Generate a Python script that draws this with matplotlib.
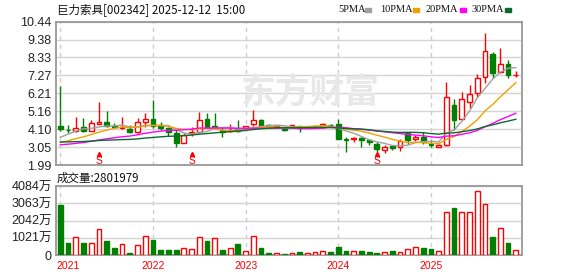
import numpy as np
import pandas as pd
import matplotlib
matplotlib.use("Agg")
import matplotlib.pyplot as plt
from matplotlib.patches import Rectangle

plt.rcParams['font.family'] = ['Liberation Sans', 'Noto Sans CJK SC']

# ---- monthly K-line data, 2021-01 .. 2025-12 (price, front adjusted) ----
open_ = [4.29, 4.07, 3.99, 4.23, 4.01, 4.42, 4.52, 4.29, 4.17, 4.11, 3.95, 4.54,
         4.70, 4.35, 4.15, 3.89, 3.30, 3.85, 3.95, 4.68, 4.30, 4.05, 4.00, 4.13,
         4.13, 4.38, 4.62, 4.36, 4.24, 4.13, 4.27, 4.27, 4.21, 4.24, 4.25, 4.36,
         4.40, 3.51, 3.50, 3.58, 3.44, 3.24, 2.87, 3.09, 3.03, 3.85, 3.50, 3.66,
         3.21, 3.08, 3.17, 5.53, 4.68, 5.68, 6.21, 7.20, 8.53, 7.45, 7.93, 7.27]
high = [6.65, 4.35, 4.82, 4.76, 4.64, 5.70, 5.17, 4.46, 4.82, 4.35, 4.76, 5.05,
        5.82, 4.50, 4.25, 4.05, 3.85, 4.21, 5.09, 5.05, 5.05, 4.25, 4.40, 4.64,
        4.29, 5.21, 4.72, 4.38, 4.31, 4.21, 4.37, 4.29, 4.29, 4.30, 4.48, 4.40,
        4.70, 3.66, 3.66, 3.66, 3.50, 3.32, 3.15, 3.15, 3.50, 3.95, 3.76, 3.91,
        3.46, 3.24, 6.86, 5.88, 6.31, 6.71, 7.34, 9.75, 8.67, 8.91, 8.18, 7.55]
low = [4.01, 3.85, 3.95, 3.91, 4.00, 4.40, 4.25, 4.15, 4.11, 3.85, 3.90, 4.25,
       4.17, 4.05, 3.70, 3.07, 3.26, 3.70, 3.90, 4.15, 4.10, 3.66, 3.95, 3.95,
       4.09, 4.29, 4.25, 4.25, 4.20, 4.00, 4.23, 3.95, 4.15, 4.20, 4.23, 4.23,
       3.50, 2.73, 3.32, 3.07, 3.16, 2.77, 2.67, 2.87, 2.81, 3.20, 3.40, 3.20,
       3.05, 3.05, 3.13, 4.05, 4.64, 5.33, 6.02, 6.80, 7.14, 7.39, 7.14, 7.20]
close = [4.11, 4.04, 4.15, 4.01, 4.46, 4.52, 4.29, 4.21, 4.23, 3.91, 4.52, 4.70,
         4.29, 4.15, 3.92, 3.27, 3.76, 3.95, 4.62, 4.21, 4.24, 3.96, 4.05, 4.02,
         4.29, 4.62, 4.29, 4.27, 4.28, 4.06, 4.33, 4.19, 4.23, 4.27, 4.38, 4.33,
         3.54, 3.47, 3.60, 3.44, 3.32, 2.91, 3.07, 2.97, 3.38, 3.46, 3.66, 3.32,
         3.14, 3.17, 5.98, 4.64, 5.88, 6.16, 7.10, 8.71, 7.43, 7.93, 7.30, 7.31]
# volume in 万 (10k lots)
volume = [3000, 720, 1060, 720, 720, 1540, 840, 420, 640, 120, 580, 1120,
          900, 300, 300, 300, 400, 340, 1060, 840, 1000, 300, 400, 660,
          220, 1120, 420, 120, 120, 60, 120, 180, 120, 180, 240, 180,
          480, 240, 240, 240, 180, 120, 180, 240, 180, 340, 460, 420,
          360, 240, 2560, 2820, 2560, 2560, 3820, 3040, 1080, 1600, 720, 280.2]
# closes before 2021 (estimated from where the MA lines start), only to seed the MAs
pre_close = [3.95, 3.80, 3.72, 3.60, 3.55, 3.70, 3.78, 3.65, 3.60, 3.55,
             3.30, 3.20, 3.05, 2.95, 3.00, 2.90, 2.95, 3.05, 3.10, 3.00,
             2.95, 2.90, 3.00, 3.05, 3.10, 3.10, 3.25, 3.35, 4.30]

years = ['2021', '2022', '2023', '2024', '2025']
year_idx = [0, 12, 24, 36, 48]
s_marks = [5, 17, 41]

price_ticks = [1.99, 3.05, 4.10, 5.16, 6.21, 7.27, 8.33, 9.38, 10.44]
vol_ticks = [0, 1021, 2042, 3063, 4084]
vol_labels = ['0', '1021万', '2042万', '3063万', '4084万']

ma_windows = [5, 10, 20, 30]
ma_labels = ['5PMA', '10PMA', '20PMA', '30PMA']
ma_colors = ['#a0a0a0', '#f0a000', '#ff00ff', '#0a6b30']

RED = '#ff0000'
GREEN = '#008000'

o = np.array(open_); h = np.array(high); l = np.array(low); c = np.array(close)
v = np.array(volume)
x = np.arange(len(c))
up = c >= o
prev = np.concatenate([[pre_close[-1]], c[:-1]])
vol_up = c >= prev

fig = plt.figure(figsize=(5.78, 2.76), dpi=100)
ax = fig.add_axes([56 / 578, 111 / 276, 466 / 578, 143.3 / 276])
axv = fig.add_axes([56 / 578, 21 / 276, 466 / 578, 68.7 / 276])

xlim = (-0.56, 59.8)
for a in (ax, axv):
    a.set_xlim(*xlim)
    for s in a.spines.values():
        s.set_color('#999999')
        s.set_linewidth(1.3)
    a.tick_params(length=0, pad=3, labelsize=9, colors='#222222')
    a.set_xticks([])
    for yi in year_idx:
        a.axvline(yi, color='#cccccc', lw=1, dashes=(3, 3), zorder=1)

# ---- price panel ----
ax.set_ylim(1.99, 10.44)
ax.set_yticks(price_ticks)
ax.set_yticklabels([f'{t:.2f}' for t in price_ticks])
ax.yaxis.grid(True, color='#d4d4d4', lw=1)
ax.set_axisbelow(True)

ax.text(0.545, 0.51, '东方财富', transform=ax.transAxes, fontsize=25,
        fontweight='bold', color='#e8e8e8', ha='center', va='center',
        family=['Noto Sans CJK SC'], zorder=1.5)

ccol = np.where(up, RED, GREEN)
ax.vlines(x, l, h, colors=ccol, lw=1, zorder=3)
body_h = np.maximum(np.abs(c - o), 0.04)
ax.bar(x, body_h, bottom=np.minimum(o, c), width=0.62,
       color=np.where(up, 'white', GREEN), edgecolor=ccol, lw=1, zorder=4)

all_close = pd.Series(pre_close + close)
for n, col in zip(ma_windows, ma_colors):
    ma = all_close.rolling(n).mean().iloc[len(pre_close):].values
    ax.plot(x, ma, color=col, lw=1, zorder=5)

ax.plot(s_marks, [2.62] * len(s_marks), '^', ms=3, color=RED, zorder=6)
for m in s_marks:
    ax.text(m, 2.22, 'S', color=RED, fontsize=7.5, ha='center', va='center', zorder=6)

# ---- volume panel ----
axv.set_ylim(0, 4084)
axv.set_yticks(vol_ticks)
axv.set_yticklabels(vol_labels)
axv.yaxis.grid(True, color='#d4d4d4', lw=1)
axv.set_axisbelow(True)
vcol = np.where(vol_up, RED, GREEN)
axv.bar(x, v, width=0.62, color=np.where(vol_up, 'white', GREEN),
        edgecolor=vcol, lw=1, zorder=3)

for i, (yi, lab) in enumerate(zip(year_idx, years)):
    xx, ha = (xlim[0], 'left') if i == 0 else (yi, 'center')
    axv.text(xx, -0.16, lab, transform=axv.get_xaxis_transform(), color=RED,
             fontsize=7.5, ha=ha, va='center')

# ---- header texts ----
fig.text(57 / 578, 1 - 9.5 / 276, '巨力索具[002342] 2025-12-12  15:00',
         fontsize=8.3, family=['Noto Sans CJK SC'], va='center', color='#111111')
fig.text(57 / 578, 1 - 178 / 276, '成交量:2801979',
         fontsize=8.3, family=['Noto Sans CJK SC'], va='center', color='#111111')

for lab, tx, sx, col in zip(ma_labels, [338, 380, 426, 472], [365, 413, 460, 505], ma_colors):
    fig.text(tx / 578, 1 - 9.5 / 276, lab, fontsize=7.5, family=['Liberation Serif'],
             va='center', color='#111111')
    fig.add_artist(Rectangle((sx / 578, (276 - 11.5) / 276), 6 / 578, 4 / 276,
                             color=col, transform=fig.transFigure))

fig.savefig('out.png', dpi=100)
